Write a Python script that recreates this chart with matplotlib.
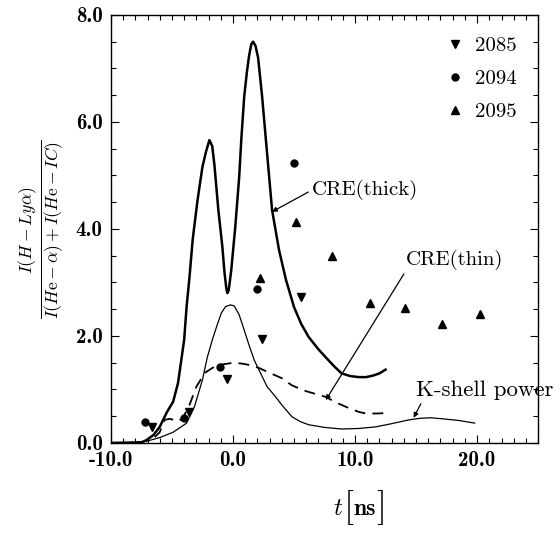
import numpy as np
import matplotlib
matplotlib.use('Agg')
import matplotlib.pyplot as plt
from matplotlib.ticker import MultipleLocator, FuncFormatter

# %% Data
# CRE (thick) model curve
thick_t = [-10.0, -7.5, -7.1, -6.5, -6.0, -5.4, -4.9, -4.5, -4.2, -4.0, -3.8, -3.56, -3.3,
           -2.9, -2.5, -2.2, -1.93, -1.7, -1.52, -1.2, -0.87, -0.7, -0.55, -0.46, -0.35,
           -0.14, 0.19, 0.51, 0.68, 0.92, 1.15, 1.33, 1.5, 1.65, 1.85, 2.06, 2.39, 2.7,
           3.2, 3.77, 4.34, 5.0, 5.6, 6.2, 7.0, 7.6, 8.3, 8.9, 9.6, 10.3, 10.9, 11.5, 12.0, 12.5]
thick_v = [0.0, 0.01, 0.05, 0.15, 0.3, 0.58, 0.77, 1.12, 1.6, 1.92, 2.54, 3.1, 3.8,
           4.54, 5.16, 5.45, 5.66, 5.55, 5.2, 4.36, 3.67, 3.2, 2.9, 2.8, 2.85,
           3.23, 4.04, 4.97, 5.66, 6.47, 6.95, 7.25, 7.45, 7.5, 7.42, 7.2, 6.47, 5.66,
           4.36, 3.61, 3.05, 2.54, 2.22, 1.98, 1.75, 1.6, 1.43, 1.3, 1.25, 1.23, 1.23, 1.26, 1.3, 1.37]

# CRE (thin) model curve (dashed)
thin_t = [-6.4, -6.0, -5.6, -5.2, -4.8, -4.5, -4.1, -3.56, -3.0, -2.3, -1.7, -1.1, -0.5,
          0.1, 0.8, 1.5, 2.14, 3.0, 4.0, 4.8, 5.8, 6.7, 7.6, 8.5, 9.4, 10.3, 10.9, 11.8, 12.7]
thin_v = [0.11, 0.2, 0.43, 0.45, 0.43, 0.4, 0.47, 0.71, 1.05, 1.31, 1.4, 1.46, 1.48,
          1.5, 1.48, 1.45, 1.4, 1.31, 1.21, 1.08, 0.98, 0.92, 0.86, 0.75, 0.66, 0.58, 0.55, 0.55, 0.56]

# K-shell power curve
kpow_t = [-10.0, -8.0, -7.1, -6.0, -4.9, -3.8, -3.15, -2.5, -2.1, -1.7, -1.3, -0.95, -0.6,
          -0.2, 0.1, 0.5, 0.92, 1.3, 1.74, 2.14, 2.8, 3.5, 4.0, 4.83, 5.5, 6.2, 7.5, 8.9,
          10.3, 11.7, 13.0, 14.4, 15.3, 16.2, 17.2, 18.5, 19.8]
kpow_v = [0.0, 0.01, 0.03, 0.1, 0.2, 0.37, 0.68, 1.18, 1.6, 1.92, 2.2, 2.43, 2.55,
          2.58, 2.56, 2.4, 2.11, 1.84, 1.55, 1.36, 1.05, 0.86, 0.71, 0.49, 0.4, 0.34, 0.29, 0.26,
          0.27, 0.3, 0.36, 0.43, 0.46, 0.47, 0.45, 0.42, 0.37]

# Measured shots
shot_2085_t = [-6.6, -3.6, -0.46, 2.4, 5.6]
shot_2085_v = [0.3, 0.58, 1.2, 1.94, 2.73]
shot_2094_t = [-7.2, -4.0, -1.1, 1.95, 5.0]
shot_2094_v = [0.39, 0.47, 1.42, 2.88, 5.24]
shot_2095_t = [2.22, 5.2, 8.1, 11.2, 14.1, 17.1, 20.2]
shot_2095_v = [3.08, 4.13, 3.5, 2.62, 2.52, 2.22, 2.41]

# %% Plot
plt.rcParams['mathtext.fontset'] = 'cm'
plt.rcParams['font.family'] = ['cmr10', 'DejaVu Serif']
plt.rcParams['axes.unicode_minus'] = False

fig = plt.figure(figsize=(5.6, 5.33), dpi=100)
ax = fig.add_axes([0.198, 0.169, 0.763, 0.803])

ax.plot(thick_t, thick_v, 'k-', lw=1.8)
ax.plot(thin_t, thin_v, 'k--', lw=1.3, dashes=(6, 4))
ax.plot(kpow_t, kpow_v, 'k-', lw=0.9)

ax.plot(shot_2085_t, shot_2085_v, 'kv', ms=5.5, ls='none', label='2085')
ax.plot(shot_2094_t, shot_2094_v, 'ko', ms=5.0, ls='none', label='2094')
ax.plot(shot_2095_t, shot_2095_v, 'k^', ms=5.5, ls='none', label='2095')

leg = ax.legend(loc='upper right', frameon=False, fontsize=15, handlelength=0.8,
                handletextpad=0.6, labelspacing=0.68, borderaxespad=0.3,
                bbox_to_anchor=(0.985, 0.983))

arrow = dict(arrowstyle='-|>', lw=0.9, color='k', shrinkA=1, shrinkB=0,
             mutation_scale=7)
ax.annotate('CRE(thick)', xy=(3.2, 4.32), xytext=(6.5, 4.73), fontsize=15,
            ha='left', va='center', arrowprops=dict(arrow, relpos=(0.0, 0.5)))
ax.annotate('CRE(thin)', xy=(7.6, 0.8), xytext=(14.2, 3.42), fontsize=15,
            ha='left', va='center', arrowprops=dict(arrow, relpos=(0.0, 0.0)))
ax.annotate('K-shell power', xy=(14.8, 0.47), xytext=(15.0, 0.99), fontsize=16.5,
            ha='left', va='center', annotation_clip=False,
            arrowprops=dict(arrow, relpos=(0.05, 0.0)))

ax.set_xlim(-10, 25)
ax.set_ylim(0, 8)
ax.xaxis.set_major_locator(MultipleLocator(10))
ax.xaxis.set_minor_locator(MultipleLocator(1))
ax.yaxis.set_major_locator(MultipleLocator(2))
ax.yaxis.set_minor_locator(MultipleLocator(0.5))
fmt = FuncFormatter(lambda v, p: f'{v:.1f}')
ax.xaxis.set_major_formatter(fmt)
ax.yaxis.set_major_formatter(fmt)
ax.tick_params(which='both', direction='in', top=True, right=True, width=0.8)
ax.tick_params(which='major', length=6, labelsize=15, labelfontfamily='cmb10', pad=6)
ax.tick_params(which='minor', length=3.5)
for s in ax.spines.values():
    s.set_linewidth(1.0)

# x label: t [ns] with tall brackets
fig.text(0.604, 0.045, r'$t$', fontsize=18, ha='center', va='center')
fig.text(0.623, 0.047, '[', fontsize=26, ha='center', va='center')
fig.text(0.652, 0.045, 'ns', fontsize=17, family='cmb10', ha='center', va='center')
fig.text(0.681, 0.047, ']', fontsize=26, ha='center', va='center')

ax.set_ylabel(r'$\frac{I(H-Ly\alpha)}{I(H{\rm e}-\alpha)+I(H{\rm e}-IC)}$', fontsize=18,
              labelpad=6)

fig.savefig('out.png', dpi=100)
